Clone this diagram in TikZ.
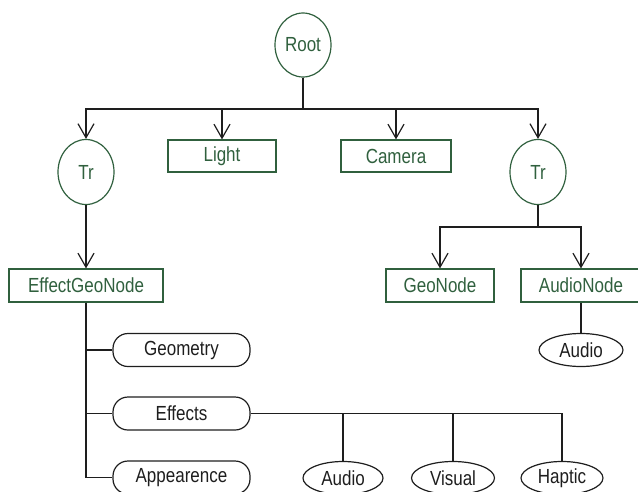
\documentclass[tikz,border=0pt]{standalone}
\usepackage{fontspec}
\usepackage{graphicx}
\setmainfont{Liberation Sans}
\usetikzlibrary{arrows.meta,shapes.geometric}
\definecolor{dgreen}{RGB}{48,96,62}
\definecolor{dgray}{RGB}{30,30,30}
\newcommand{\stt}[1]{\scalebox{1}[1.2]{#1}}
\begin{document}
\begin{tikzpicture}[x=1pt,y=-1pt,
  every node/.style={font=\fontsize{17}{20}\selectfont, inner sep=0pt},
  gell/.style={ellipse, draw=dgreen, text=dgreen, line width=1.2pt, minimum width=56pt, minimum height=65pt},
  gbox/.style={rectangle, draw=dgreen, text=dgreen, line width=1.2pt, minimum height=32pt},
  pill/.style={rectangle, rounded corners=15pt, draw=dgray, text=dgray, line width=1.2pt, minimum width=137pt, minimum height=33pt},
  bell/.style={ellipse, draw=dgray, text=dgray, line width=1.2pt, minimum height=33pt},
  conn/.style={draw=dgray, line width=1.3pt},
  arr/.style={conn, -{Straight Barb[length=14pt,width=16pt,line width=1.2pt]}}
]
\useasboundingbox (0,0) rectangle (638,491);
\clip (0,0) rectangle (638,491);

\node[gell, minimum height=64pt] (root) at (303,45) {\stt{Root}};
\node[gell] (tr1) at (86,172) {\stt{Tr}};
\node[gbox, minimum width=108pt] (light) at (222,156) {\stt{Light}};
\node[gbox, minimum width=110pt] (camera) at (396,156) {\stt{Camera}};
\node[gell] (tr2) at (538,172) {\stt{Tr}};

\node[gbox, minimum width=154pt, minimum height=33pt] (egn) at (86,285.5) {\stt{EffectGeoNode}};
\node[gbox, minimum width=108pt, minimum height=33pt] (geo) at (440,285.5) {\stt{GeoNode}};
\node[gbox, minimum width=120pt, minimum height=33pt] (audnode) at (581,285.5) {\stt{AudioNode}};
\node[bell, minimum width=84pt] (audio1) at (581,350) {\stt{Audio}};

\node[pill] (geom) at (181.5,350) {\stt{Geometry}};
\node[pill] (eff) at (181.5,413.5) {\stt{Effects}};
\node[pill] (app) at (181.5,477.5) {\stt{Appearence}};

\node[bell, minimum width=80pt] (audio2) at (343,478) {\stt{Audio}};
\node[bell, minimum width=83pt] (visual) at (453,478) {\stt{Visual}};
\node[bell, minimum width=82pt] (haptic) at (562,478) {\stt{Haptic}};

\coordinate (bus) at (0,109);
\coordinate (bus2) at (0,227);

\draw[arr] (root.south) -- (root.south |- bus) -| (tr1.north);
\draw[arr] (root.south) -- (root.south |- bus) -| (light.north);
\draw[arr] (root.south) -- (root.south |- bus) -| (camera.north);
\draw[arr] (root.south) -- (root.south |- bus) -| (tr2.north);

\draw[arr] (tr1.south) -- (egn.north);

\draw[arr] (tr2.south) -- (tr2.south |- bus2) -| (geo.north);
\draw[arr] (tr2.south) -- (tr2.south |- bus2) -| (audnode.north);
\draw[conn] (audnode.south) -- (audio1.north);

\draw[conn] (egn.south) |- (geom.west);
\draw[conn] (egn.south) |- (eff.west);
\draw[conn] (egn.south) |- (app.west);

\draw[conn] (eff.east) -| (audio2.north);
\draw[conn] (eff.east) -| (visual.north);
\draw[conn] (eff.east) -| (haptic.north);
\end{tikzpicture}
\end{document}
